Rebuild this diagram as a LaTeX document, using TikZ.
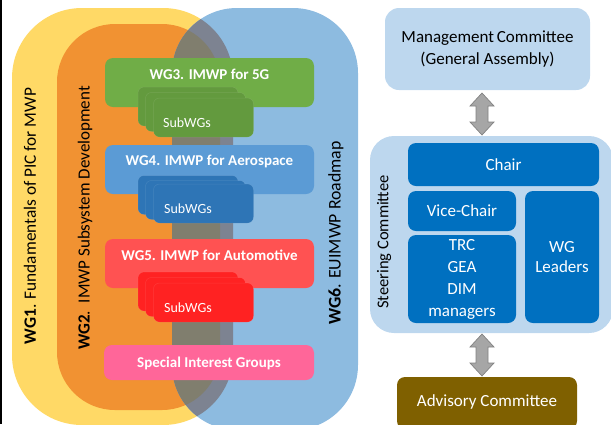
\documentclass[tikz,border=0pt]{standalone}
\usepackage{fontspec}
\setmainfont{Carlito}
\usetikzlibrary{calc}

\definecolor{wgyellow}{RGB}{255,217,102}
\definecolor{wgorange}{RGB}{241,146,50}
\definecolor{wgblue}{RGB}{141,187,224}
\definecolor{ovorange}{RGB}{128,126,110}
\definecolor{ovyellow}{RGB}{125,131,145}
\definecolor{gfive}{RGB}{112,173,71}
\definecolor{gfivesub}{RGB}{99,154,62}
\definecolor{aero}{RGB}{91,155,213}
\definecolor{aerosub}{RGB}{46,117,182}
\definecolor{auto}{RGB}{255,82,82}
\definecolor{autosub}{RGB}{255,34,34}
\definecolor{sigpink}{RGB}{255,102,153}
\definecolor{mgmt}{RGB}{189,215,238}
\definecolor{steer}{RGB}{0,112,192}
\definecolor{advis}{RGB}{127,96,0}
\definecolor{arrowfill}{RGB}{166,166,166}
\definecolor{arrowline}{RGB}{130,130,130}

\tikzset{
  wgbox/.style={rounded corners=8pt, minimum width=209pt, inner sep=0pt},
  hdr/.style={text=white, font=\fontsize{15}{18}\selectfont\bfseries, inner sep=0pt},
  subbox/.style={rounded corners=6pt, minimum width=100pt, minimum height=39pt, inner sep=0pt, draw=white, draw opacity=0.1, line width=0.5pt},
  subtxt/.style={text=white, font=\fontsize{14}{16}\selectfont, inner sep=0pt},
  sidetxt/.style={rotate=90, font=\fontsize{17.3}{20}\selectfont, inner sep=0pt},
  darkbox/.style={fill=steer, rounded corners=8pt, inner sep=0pt, text=white,
    font=\fontsize{17}{22}\selectfont, align=center},
  fatarrow/.style={fill=arrowfill, draw=arrowline, line width=0.7pt, line join=miter},
}

% vertical double arrow between two named points (top tip, bottom tip)
\newcommand{\dblarrow}[2]{%
  \draw[fatarrow] (#1) -- ($(#1)+(12,13)$) -- ($(#1)+(6,13)$) -- ($(#2)+(6,-13)$)
    -- ($(#2)+(12,-13)$) -- (#2) -- ($(#2)+(-12,-13)$) -- ($(#2)+(-6,-13)$)
    -- ($(#1)+(-6,13)$) -- ($(#1)+(-12,13)$) -- cycle;}

\begin{document}
\begin{tikzpicture}[x=1pt,y=-1pt]
\useasboundingbox (0,0) rectangle (611,424);
\clip (0,0) rectangle (611,424);
\fill[black] (0,0) rectangle (2,424);

% working-group areas
\fill[wgyellow, rounded corners=70pt] (12,8) rectangle (233,425);
\fill[wgorange, rounded corners=58pt] (57,24) rectangle (220,410);
\fill[wgblue, rounded corners=65pt] (172,8) rectangle (358,430);
\begin{scope}
  \clip[rounded corners=65pt] (172,8) rectangle (358,430);
  \fill[ovyellow, rounded corners=70pt] (12,8) rectangle (233,425);
  \fill[ovorange, rounded corners=58pt] (57,24) rectangle (220,410);
\end{scope}

\node[sidetxt] (wg1) at (30,216) {\textbf{WG1}. Fundamentals of PIC for MWP};
\node[sidetxt, font=\fontsize{17}{20}\selectfont] (wg2) at (85,218) {\textbf{WG2}.\ \ IMWP Subsystem Development};
\node[sidetxt, font=\fontsize{17.8}{20}\selectfont] (wg6) at (336,233) {\textbf{WG6}. EUIMWP Roadmap};

% WG3
\node[wgbox, fill=gfive, minimum height=49pt] (wg3) at (209.5,82.5) {};
\node[hdr] (wg3h) at (209.5,74) {WG3. IMWP for 5G};
\node[subbox, fill=gfivesub] (s3a) at (188,106.5) {};
\node[subbox, fill=gfivesub] (s3b) at (195.5,112) {};
\node[subbox, fill=gfivesub] (s3c) at (203.5,117.5) {};
\node[subtxt] (s3t) at (187,123) {SubWGs};

% WG4
\node[wgbox, fill=aero, minimum height=49pt] (wg4) at (209.5,169.5) {};
\node[hdr] (wg4h) at (209.5,161) {WG4. IMWP for Aerospace};
\node[subbox, fill=aerosub] (s4a) at (188,195) {};
\node[subbox, fill=aerosub] (s4b) at (195.5,200) {};
\node[subbox, fill=aerosub] (s4c) at (203.5,203.5) {};
\node[subtxt] (s4t) at (188,209) {SubWGs};

% WG5
\node[wgbox, fill=auto, minimum height=49pt] (wg5) at (209.5,263.5) {};
\node[hdr] (wg5h) at (209.5,255) {WG5. IMWP for Automotive};
\node[subbox, fill=autosub] (s5a) at (188,291.5) {};
\node[subbox, fill=autosub] (s5b) at (195.5,297) {};
\node[subbox, fill=autosub] (s5c) at (203.5,302.5) {};
\node[subtxt] (s5t) at (188,308) {SubWGs};

% special interest groups
\node[wgbox, fill=sigpink, minimum width=210pt, minimum height=35pt] (sig) at (209,362.5) {};
\node[hdr] (sigh) at (209,363) {Special Interest Groups};

% governance
\node[fill=mgmt, rounded corners=14pt, minimum width=205pt, minimum height=82pt,
  align=center, font=\fontsize{17}{22}\selectfont, inner sep=0pt] (mc) at (487.5,49)
  {Management\,Committee\\(General Assembly)};

\fill[mgmt, rounded corners=24pt] (370,136) rectangle (613,333);
\node[rotate=90, font=\fontsize{16.5}{19}\selectfont, inner sep=0pt] (sc) at (384,242) {Steering Committee};

\node[darkbox, minimum width=191pt, minimum height=43pt] (chair) at (503.5,164.5) {Chair};
\node[darkbox, minimum width=108pt, minimum height=40pt] (vice) at (462,211) {Vice-Chair};
\node[darkbox, minimum width=108pt, minimum height=88pt] (trc) at (462,279) {TRC\\GEA\\DIM\\managers};
\node[darkbox, minimum width=74pt, minimum height=132pt, font=\fontsize{17}{20}\selectfont] (wgl) at (562,257) {WG\\Leaders};

\node[fill=advis, rounded corners=8pt, minimum width=180pt, minimum height=52pt, text=white,
  font=\fontsize{17}{20}\selectfont, inner sep=0pt] (ac) at (487,403) {};
\node[text=white, font=\fontsize{17}{20}\selectfont, inner sep=0pt] (act) at (487,402) {Advisory Committee};

\coordinate (a1t) at (482,93);
\coordinate (a1b) at (482,135);
\coordinate (a2t) at (482,334);
\coordinate (a2b) at (482,376);
\dblarrow{a1t}{a1b}
\dblarrow{a2t}{a2b}
\end{tikzpicture}
\end{document}
